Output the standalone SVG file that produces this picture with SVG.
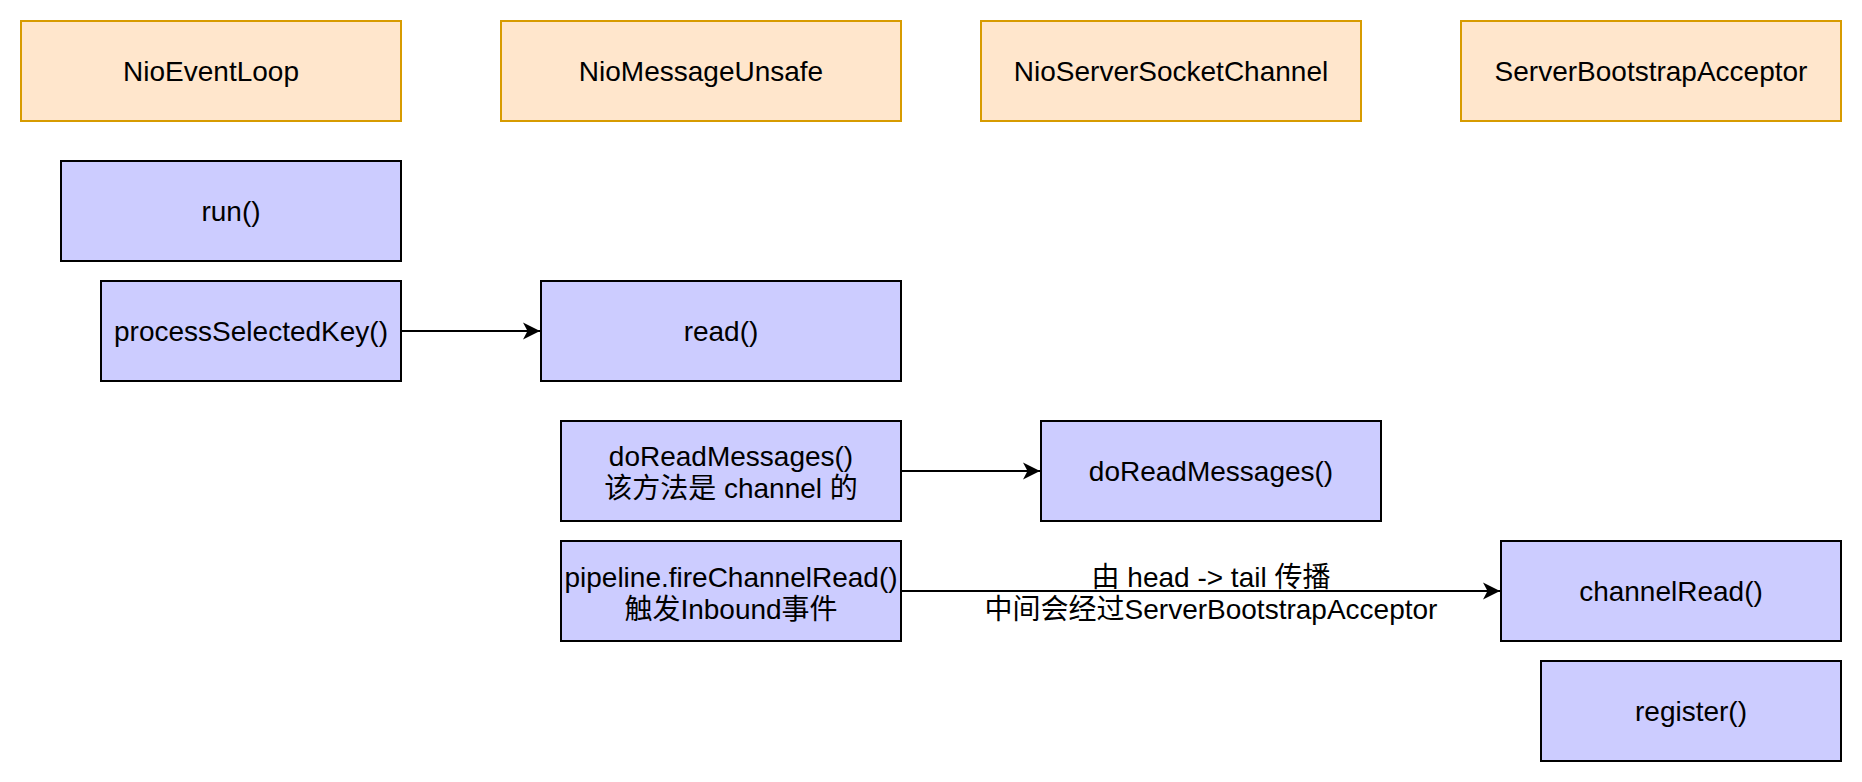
<svg xmlns="http://www.w3.org/2000/svg" width="1862" height="782" viewBox="0 0 1862 782">
<style>
.hdr{fill:#ffe6cc;stroke:#d79b00;stroke-width:2}
.mth{fill:#ccccff;stroke:#000;stroke-width:2}
text{font-family:"Liberation Sans","Noto Sans CJK SC",Arial,sans-serif;font-size:28px;fill:#000;text-anchor:middle}
.edge{fill:none;stroke:#000;stroke-width:2}
</style>
<defs>
<marker id="arr" viewBox="-18 -10 20 20" refX="0" refY="0" markerWidth="20" markerHeight="20" markerUnits="userSpaceOnUse" orient="auto">
<path d="M0,0 L-17,-8.5 L-12.5,0 L-17,8.5 Z" fill="#000"/>
</marker>
</defs>
<rect width="1862" height="782" fill="#fff"/>
<g id="NioEventLoop"><rect class="hdr" x="21" y="21" width="380" height="100"/><text x="211" y="81">NioEventLoop</text></g>
<g id="NioMessageUnsafe"><rect class="hdr" x="501" y="21" width="400" height="100"/><text x="701" y="81">NioMessageUnsafe</text></g>
<g id="NioServerSocketChannel"><rect class="hdr" x="981" y="21" width="380" height="100"/><text x="1171" y="81">NioServerSocketChannel</text></g>
<g id="ServerBootstrapAcceptor"><rect class="hdr" x="1461" y="21" width="380" height="100"/><text x="1651" y="81">ServerBootstrapAcceptor</text></g>
<g id="run"><rect class="mth" x="61" y="161" width="340" height="100"/><text x="231" y="221">run()</text></g>
<g id="processSelectedKey"><rect class="mth" x="101" y="281" width="300" height="100"/><text x="251" y="341">processSelectedKey()</text></g>
<g id="read"><rect class="mth" x="541" y="281" width="360" height="100"/><text x="721" y="341">read()</text></g>
<g id="doReadMessagesUnsafe"><rect class="mth" x="561" y="421" width="340" height="100"/><text x="731" y="466">doReadMessages()</text><text x="731" y="498">该方法是 channel 的</text></g>
<g id="doReadMessagesChannel"><rect class="mth" x="1041" y="421" width="340" height="100"/><text x="1211" y="481">doReadMessages()</text></g>
<g id="fireChannelRead"><rect class="mth" x="561" y="541" width="340" height="100"/><text x="731" y="587">pipeline.fireChannelRead()</text><text x="731" y="619">触发Inbound事件</text></g>
<g id="channelRead"><rect class="mth" x="1501" y="541" width="340" height="100"/><text x="1671" y="601">channelRead()</text></g>
<g id="register"><rect class="mth" x="1541" y="661" width="300" height="100"/><text x="1691" y="721">register()</text></g>
<g id="connectors">
<path class="edge" d="M401,331 H540" marker-end="url(#arr)"/>
<path class="edge" d="M901,471 H1040" marker-end="url(#arr)"/>
<path class="edge" d="M901,591 H1500" marker-end="url(#arr)"/>
<text x="1211" y="587">由 head -&gt; tail 传播</text>
<text x="1211" y="619">中间会经过ServerBootstrapAcceptor</text>
</g>
</svg>
